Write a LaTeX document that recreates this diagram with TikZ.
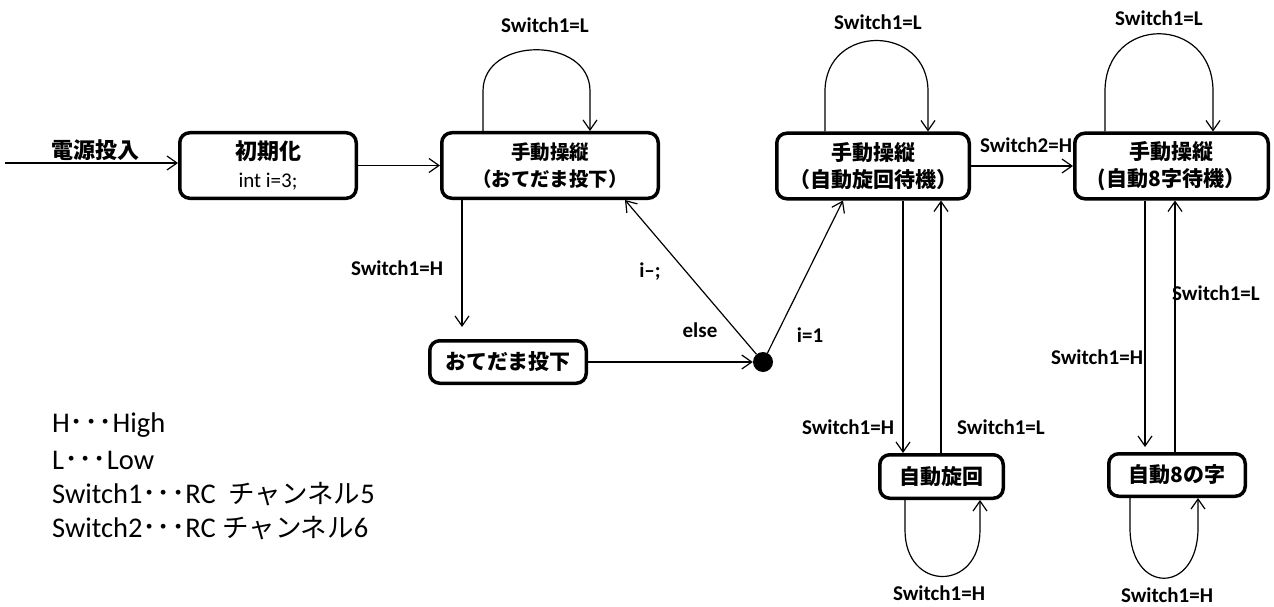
\documentclass[tikz,border=0pt]{standalone}
\usepackage{fontspec}
\setmainfont{Carlito}
\newfontfamily\jp{Noto Sans CJK JP}
\usetikzlibrary{arrows.meta,calc}
\begin{document}
\begin{tikzpicture}[x=1pt,y=-1pt,
  state/.style={draw, line width=3.5pt, rounded corners=10pt, align=center, inner sep=0pt},
  arr/.style={line width=1.2pt, -{Straight Barb[length=10pt,width=14pt]}},
  lbl/.style={font=\fontsize{21}{25}\selectfont\bfseries, inner sep=0pt},
  jpa/.style={font=\jp\bfseries\fontsize{21}{27}\selectfont},
  jps/.style={font=\jp\bfseries\fontsize{19.5}{27}\selectfont},
  leg/.style={font=\fontsize{28.5}{34}\selectfont, inner sep=0pt, anchor=west}]

\fill[white] (0,0) rectangle (1274,607);
\useasboundingbox (0,0) rectangle (1274,607);

% states
\node[state, font=\fontsize{21}{28}\selectfont, minimum width=176.5pt, minimum height=65.5pt] (init) at (268,165.5)
  {{\jp\bfseries\fontsize{22}{28}\selectfont 初期化}\\{int i=3;}};
\node[state, jps, minimum width=216.5pt, minimum height=65.5pt] (m1) at (550,165.5)
  {手動操縦\\（おてだま投下）};
\node[state, jpa, minimum width=156.5pt, minimum height=42.5pt] (drop) at (508,362) {おてだま投下};
\node[circle, fill, inner sep=0pt, minimum size=20pt] (dot) at (763,362) {};
\node[state, jpa, minimum width=192.5pt, minimum height=65.5pt] (m2) at (873,166)
  {手動操縦\\（自動旋回待機）};
\node[state, jpa, minimum width=193.5pt, minimum height=65.5pt] (m3) at (1171.5,166)
  {手動操縦\\(自動8字待機）};
\node[state, jpa, minimum width=123.5pt, minimum height=43.5pt] (spin) at (941.5,476.5) {自動旋回};
\node[state, jpa, minimum width=136.5pt, minimum height=42.5pt] (eight) at (1177,475) {自動8の字};

% helper x positions
\coordinate (pw) at (5,163);
\coordinate (xd) at (462,0);
\coordinate (xa) at (903,0);
\coordinate (xb) at (941,0);
\coordinate (xc) at (1145,0);
\coordinate (xe) at (1175,0);

% connectors
\draw[arr] (pw) -- (pw -| init.west);
\draw[arr] (init.east) -- (m1.west);
\draw[arr, shorten >=12pt] (m1.south -| xd) -- (drop.north -| xd);
\draw[arr] (drop.east) -- (dot.west);
\draw[arr] (dot) -- ($(m1.south)+(75,0)$);
\draw[arr] (dot) -- ($(m2.south)+(-30,0)$);
\draw[arr] (m2.east) -- (m3.west);
\draw[arr] (m2.south -| xa) -- (spin.north -| xa);
\draw[arr] (spin.north -| xb) -- (m2.south -| xb);
\draw[arr, shorten >=5pt] (m3.south -| xc) -- (eight.north -| xc);
\draw[arr] (eight.north -| xe) -- (m3.south -| xe);

% self loops (top)
\draw[arr] ($(m1.north west)+(43,0)$) -- ($(m1.north west)+(43,-40)$)
  .. controls ($(m1.north west)+(43,-95)$) and ($(m1.north west)+(150,-95)$) ..
  ($(m1.north west)+(150,-40)$) -- ($(m1.north west)+(150,0)$);
\draw[arr] ($(m2.north west)+(50,0)$) -- ($(m2.north west)+(50,-40)$)
  .. controls ($(m2.north west)+(50,-108)$) and ($(m2.north west)+(153,-108)$) ..
  ($(m2.north west)+(153,-40)$) -- ($(m2.north west)+(153,0)$);
\draw[arr] ($(m3.north west)+(32,0)$) -- ($(m3.north west)+(32,-40)$)
  .. controls ($(m3.north west)+(32,-117)$) and ($(m3.north west)+(140,-117)$) ..
  ($(m3.north west)+(140,-40)$) -- ($(m3.north west)+(140,0)$);
% self loops (bottom)
\draw[arr] ($(spin.south west)+(27,0)$) -- ($(spin.south west)+(27,30)$)
  .. controls ($(spin.south west)+(27,92)$) and ($(spin.south west)+(102,92)$) ..
  ($(spin.south west)+(102,30)$) -- ($(spin.south west)+(102,0)$);
\draw[arr] ($(eight.south west)+(23,0)$) -- ($(eight.south west)+(23,30)$)
  .. controls ($(eight.south west)+(23,97)$) and ($(eight.south west)+(91,97)$) ..
  ($(eight.south west)+(91,30)$) -- ($(eight.south west)+(91,0)$);

% labels
\node[font=\jp\bfseries\fontsize{22}{26}\selectfont, inner sep=0pt] (lpw) at (95,150) {電源投入};
\node[lbl] (l1) at (545,25) {Switch1=L};
\node[lbl] (l2) at (878,22) {Switch1=L};
\node[lbl] (l3) at (1159,18) {Switch1=L};
\node[lbl] (l4) at (397,268) {Switch1=H};
\node[lbl] (l5) at (650,272) {i--;};
\node[lbl] (l6) at (700,330) {else};
\node[lbl] (l7) at (810,335) {i=1};
\node[lbl] (l8) at (1026,145) {Switch2=H};
\node[lbl] (l9) at (848,427) {Switch1=H};
\node[lbl] (l10) at (1001,427) {Switch1=L};
\node[lbl] (l11) at (939,593) {Switch1=H};
\node[lbl] (l12) at (1167,595) {Switch1=H};
\node[lbl] (l13) at (1216,293) {Switch1=L};
\node[lbl] (l14) at (1097,357) {Switch1=H};

% legend
\node[leg] (g1) at (52,425) {H{\jp ･･･}High};
\node[leg] (g2) at (52,460) {L{\jp ･･･}Low};
\node[leg] (g3) at (52,494) {Switch1{\jp ･･･}RC\ \ {\jp\fontsize{26.5}{34}\selectfont チャンネル}5};
\node[leg] (g4) at (52,528) {Switch2{\jp ･･･}RC {\jp\fontsize{26.5}{34}\selectfont チャンネル}6};
\end{tikzpicture}
\end{document}
